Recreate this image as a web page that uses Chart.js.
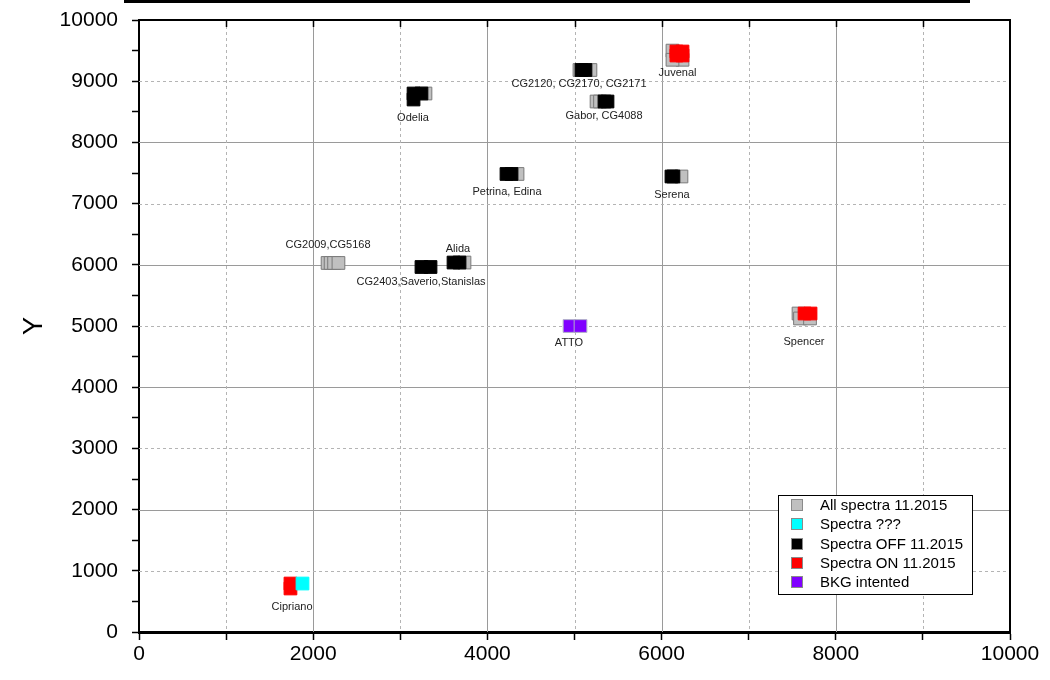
<!DOCTYPE html>
<html>
<head>
<meta charset="utf-8">
<script src="https://cdn.jsdelivr.net/npm/chart.js@4.4.1/dist/chart.umd.min.js"></script>
<style>
html,body{margin:0;padding:0;background:#fff;}
#wrap{width:1050px;height:680px;position:relative;}
</style>
</head>
<body>
<div id="wrap"><canvas id="c" width="1050" height="680"></canvas></div>
<script>
// ---------- data ----------
const seriesNames = ["All spectra 11.2015", "Spectra ???", "Spectra OFF 11.2015", "Spectra ON 11.2015", "BKG intented"];
const seriesColors = ["#c0c0c0", "#00ffff", "#000000", "#ff0000", "#8000ff"];

const allX = [2165, 2200, 2240, 2290, 3737, 3289, 4346, 5057, 5183, 5253, 5293, 6125, 6240, 6125, 6228, 7572, 7589, 7704];
const allY = [6030, 6030, 6030, 6030, 6037, 8799, 7484, 9183, 9183, 8668, 8668, 9500, 9350, 9350, 7443, 5204, 5123, 5123];

const qX = [1877];
const qY = [792];

const offX = [3243, 3347, 3611, 3680, 3152, 3243, 3152, 4219, 4277, 5080, 5126, 5344, 5379, 6113, 6136];
const offY = [5964, 5964, 6037, 6037, 8799, 8799, 8701, 7484, 7484, 9183, 9183, 8668, 8668, 7443, 7443];

const onX = [6170, 6240, 6170, 6240, 7641, 7710, 1739, 1739];
const onY = [9485, 9485, 9420, 9420, 5204, 5204, 792, 711];

const bkgX = [4943, 5069];
const bkgY = [5000, 5000];

const labelTexts = ["CG2009,CG5168", "Alida", "CG2403,Saverio,Stanislas", "Odelia", "Petrina, Edina",
  "CG2120, CG2170, CG2171", "Gabor, CG4088", "Juvenal", "Serena", "ATTO", "Spencer", "Cipriano"];
const labelX = [2170, 3662, 3238, 3146, 4225, 5052, 5339, 6183, 6119, 4937, 7635, 1757];
const labelY = [6324, 6258, 5719, 8399, 7190, 8954, 8431, 9134, 7141, 4722, 4739, 408];

const gridMajor = [2000, 4000, 6000, 8000];
const gridMinor = [1000, 3000, 5000, 7000, 9000];
const topTicks = [1000, 2000, 3000, 4000, 5000, 6000, 7000, 8000, 9000];

// ---------- helpers ----------
const pts = (xs, ys) => xs.map((v, i) => ({x: v, y: ys[i]}));
const FONT = "'Liberation Sans', Arial, sans-serif";

const decor = {
  id: 'decor',
  beforeDatasetsDraw(chart) {
    const {ctx, chartArea: a, scales: {x, y}} = chart;
    ctx.save();
    ctx.lineWidth = 1;
    ctx.strokeStyle = '#9a9a9a';
    ctx.setLineDash([]);
    for (const v of gridMajor) {
      const px = Math.round(x.getPixelForValue(v)) + 0.5;
      ctx.beginPath(); ctx.moveTo(px, a.top); ctx.lineTo(px, a.bottom); ctx.stroke();
      const py = Math.round(y.getPixelForValue(v)) + 0.5;
      ctx.beginPath(); ctx.moveTo(a.left, py); ctx.lineTo(a.right, py); ctx.stroke();
    }
    ctx.strokeStyle = '#b4b4b4';
    ctx.setLineDash([3, 3]);
    for (const v of gridMinor) {
      const px = Math.round(x.getPixelForValue(v)) + 0.5;
      ctx.beginPath(); ctx.moveTo(px, a.top); ctx.lineTo(px, a.bottom); ctx.stroke();
      const py = Math.round(y.getPixelForValue(v)) + 0.5;
      ctx.beginPath(); ctx.moveTo(a.left, py); ctx.lineTo(a.right, py); ctx.stroke();
    }
    ctx.restore();
  },
  afterDatasetsDraw(chart) {
    const {ctx, scales: {x, y}} = chart;
    ctx.save();
    ctx.fillStyle = '#222';
    ctx.font = '11px ' + FONT;
    ctx.textAlign = 'center';
    ctx.textBaseline = 'middle';
    labelTexts.forEach((t, i) => {
      ctx.fillText(t, x.getPixelForValue(labelX[i]), y.getPixelForValue(labelY[i]));
    });
    ctx.restore();
  },
  afterDraw(chart) {
    const {ctx, chartArea: a, scales: {x}} = chart;
    ctx.save();
    ctx.strokeStyle = '#000';
    ctx.lineWidth = 2;
    ctx.beginPath(); ctx.moveTo(a.left, a.top); ctx.lineTo(a.right, a.top); ctx.lineTo(a.right, a.bottom); ctx.stroke();
    ctx.lineWidth = 1.5;
    for (const v of topTicks) {
      const px = Math.round(x.getPixelForValue(v)) + 0.5;
      ctx.beginPath(); ctx.moveTo(px, a.top); ctx.lineTo(px, a.top + 7); ctx.stroke();
    }
    ctx.lineWidth = 3;
    ctx.beginPath(); ctx.moveTo(124, 1.5); ctx.lineTo(970, 1.5); ctx.stroke();

    const bx = 778, by = 495, bw = 194, bh = 99;
    ctx.fillStyle = '#fff';
    ctx.fillRect(bx, by, bw, bh);
    ctx.lineWidth = 1;
    ctx.strokeStyle = '#000';
    ctx.strokeRect(bx + 0.5, by + 0.5, bw, bh);
    ctx.font = '15px ' + FONT;
    ctx.textAlign = 'left';
    ctx.textBaseline = 'middle';
    chart.data.datasets.forEach((ds, i) => {
      const cy = by + 10 + i * 19.25;
      ctx.fillStyle = ds.backgroundColor;
      ctx.fillRect(791, Math.round(cy - 6), 12, 12);
      ctx.strokeStyle = '#8a8a8a';
      ctx.strokeRect(791.5, Math.round(cy - 6) + 0.5, 11, 11);
      ctx.fillStyle = '#000';
      ctx.fillText(ds.label, 820, cy + 1);
    });
    ctx.restore();
  }
};

const mk = (i, data, border, order) => ({
  label: seriesNames[i],
  data,
  backgroundColor: seriesColors[i],
  borderColor: border,
  borderWidth: 1,
  pointStyle: 'rect',
  pointRadius: 9,
  pointHoverRadius: 9,
  order
});

new Chart(document.getElementById('c'), {
  type: 'scatter',
  data: {
    datasets: [
      mk(0, pts(allX, allY), '#7a7a7a', 5),
      mk(1, pts(qX, qY), '#00ffff', 0),
      mk(2, pts(offX, offY), '#000000', 2),
      mk(3, pts(onX, onY), '#ff0000', 1),
      mk(4, pts(bkgX, bkgY), '#b0b0c8', 3)
    ]
  },
  options: {
    responsive: false,
    animation: false,
    devicePixelRatio: 1,
    layout: {padding: {top: 20, right: 40, left: 0, bottom: 0}},
    plugins: {legend: {display: false}, tooltip: {enabled: false}},
    scales: {
      x: {
        type: 'linear', position: 'bottom', min: 0, max: 10000,
        afterFit(s) { s.height = 48; s.paddingLeft = 0; s.paddingRight = 0; },
        border: {color: '#000', width: 3},
        grid: {drawOnChartArea: false, drawTicks: true, tickLength: 8, tickColor: '#000', tickWidth: 1.5},
        ticks: {
          stepSize: 1000, autoSkip: false, maxRotation: 0, color: '#000', padding: 2,
          font: {family: FONT, size: 21},
          callback: v => (v % 2000 === 0 ? String(v) : '')
        }
      },
      y: {
        type: 'linear', position: 'left', min: 0, max: 10000,
        afterFit(s) { s.width = 139; s.paddingTop = 0; s.paddingBottom = 0; },
        border: {color: '#000', width: 2},
        grid: {drawOnChartArea: false, drawTicks: true, tickLength: 7, tickColor: '#000', tickWidth: 1.5},
        ticks: {
          stepSize: 500, autoSkip: false, color: '#000', padding: 14,
          font: {family: FONT, size: 21},
          callback: v => (v % 1000 === 0 ? String(v) : '')
        },
        title: {display: true, text: 'Y', color: '#000', font: {family: FONT, size: 27}, padding: {top: 18, bottom: 0}}
      }
    }
  },
  plugins: [decor]
});
</script>
</body>
</html>
